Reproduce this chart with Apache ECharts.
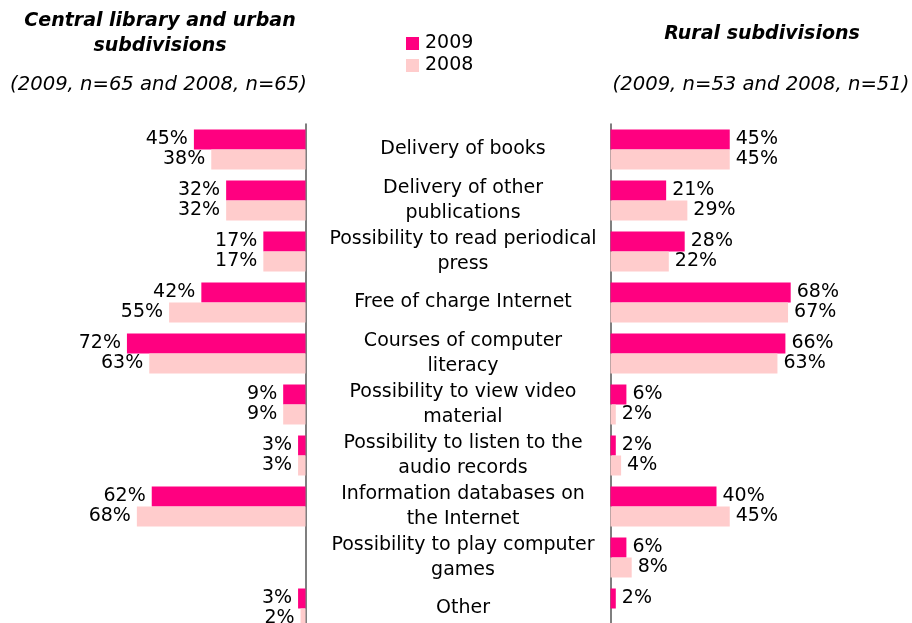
<!DOCTYPE html>
<html>
<head>
<meta charset="utf-8">
<style>
  html, body { margin: 0; padding: 0; background: #fff; }
  #chart { width: 912px; height: 623px; }
</style>
<script src="https://cdn.jsdelivr.net/npm/echarts@6/dist/echarts.min.js"></script>
</head>
<body>
<div id="chart"></div>
<script>
// categories (top to bottom)
const categories = [
    'Delivery of books',
    'Delivery of other\npublications',
    'Possibility to read periodical\npress',
    'Free of charge Internet',
    'Courses of computer\nliteracy',
    'Possibility to view video\nmaterial',
    'Possibility to listen to the\naudio records',
    'Information databases on\nthe Internet',
    'Possibility to play computer\ngames',
    'Other'
];
const years = ['2009', '2008'];

// central library and urban subdivisions
const urban2009 = [45, 32, 17, 42, 72, 9, 3, 62, null, 3];
const urban2008 = [38, 32, 17, 55, 63, 9, 3, 68, null, 2];
// rural subdivisions
const rural2009 = [45, 21, 28, 68, 66, 6, 2, 40, 6, 2];
const rural2008 = [45, 29, 22, 67, 63, 2, 4, 45, 8, null];

const colors = ['#ff0080', '#ffcccc'];
const font = 'DejaVu Sans, Verdana, sans-serif';

const chart = echarts.init(document.getElementById('chart'));

function barSeries(name, data, axisIdx, color, pos) {
    return {
        name: name,
        type: 'bar',
        xAxisIndex: axisIdx,
        yAxisIndex: axisIdx,
        data: data,
        barWidth: 20,
        barGap: '0%',
        itemStyle: { color: color },
        label: {
            show: true,
            position: pos,
            distance: 6,
            formatter: '{c}%',
            color: '#000',
            fontFamily: font,
            fontSize: 19
        },
        emphasis: { disabled: true }
    };
}

const titleStyle = { fontFamily: font, fontSize: 19, fontWeight: 'bold', fontStyle: 'italic', lineHeight: 25, color: '#000' };
const subStyle = { fontFamily: font, fontSize: 19.6, fontWeight: 'normal', fontStyle: 'italic', color: '#000' };

const option = {
    backgroundColor: '#fff',
    animation: false,
    title: [
        { text: 'Central library and urban\nsubdivisions', left: 160, top: 9, padding: 0, textAlign: 'center', textStyle: titleStyle },
        { text: '(2009, n=65 and 2008, n=65)', left: 158.5, top: 75, padding: 0, textAlign: 'center', textStyle: subStyle },
        { text: 'Rural subdivisions', left: 762, top: 22, padding: 0, textAlign: 'center', textStyle: titleStyle },
        { text: '(2009, n=53 and 2008, n=51)', left: 761, top: 75, padding: 0, textAlign: 'center', textStyle: subStyle }
    ],
    legend: {
        data: years,
        orient: 'vertical',
        left: 406, top: 34,
        padding: 0,
        itemWidth: 13, itemHeight: 13,
        itemGap: 3,
        icon: 'rect',
        textStyle: { fontFamily: font, fontSize: 19, color: '#000', padding: [0, 0, 0, 1] }
    },
    // the reference cuts the last row off, so the grids run past the bottom edge
    grid: [
        { left: 57.5, width: 248, top: 124, height: 510, outerBoundsMode: 'none' },
        { left: 610.5, width: 265, top: 124, height: 510, outerBoundsMode: 'none' }
    ],
    xAxis: [
        { gridIndex: 0, type: 'value', min: 0, max: 100, inverse: true, show: false },
        { gridIndex: 1, type: 'value', min: 0, max: 100, show: false }
    ],
    yAxis: [{
        gridIndex: 0, type: 'category', data: categories, inverse: true,
        position: 'right',
        axisLine: { show: true, onZero: false, lineStyle: { color: '#555', width: 1.5 } },
        axisTick: { show: false },
        axisLabel: { show: false }
    }, {
        gridIndex: 1, type: 'category', data: categories, inverse: true,
        position: 'left',
        axisLine: { show: true, onZero: false, lineStyle: { color: '#555', width: 1.5 } },
        axisTick: { show: false },
        axisLabel: {
            margin: 147.5,
            align: 'center',
            color: '#000',
            fontFamily: font,
            fontSize: 19,
            lineHeight: 25
        }
    }],
    series: [
        barSeries('2009', urban2009, 0, colors[0], 'left'),
        barSeries('2008', urban2008, 0, colors[1], 'left'),
        barSeries('2009', rural2009, 1, colors[0], 'right'),
        barSeries('2008', rural2008, 1, colors[1], 'right')
    ]
};

chart.setOption(option);
</script>
</body>
</html>
